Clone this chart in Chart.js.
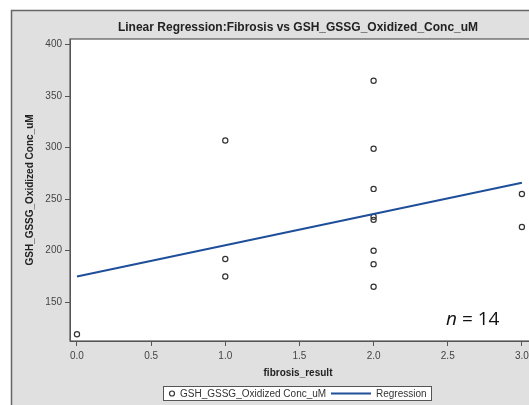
<!DOCTYPE html>
<html>
<head>
<meta charset="utf-8">
<script src="https://cdn.jsdelivr.net/npm/chart.js@4.4.0/dist/chart.umd.min.js"></script>
<style>
  html, body { margin: 0; padding: 0; background: #fff; overflow: hidden; }
  #wrap { width: 560px; height: 405px; }
</style>
</head>
<body>
<div id="wrap"><canvas id="myChart" width="560" height="405"></canvas></div>
<script>
// data
const fibrosis = [0, 1, 1, 1, 2, 2, 2, 2, 2, 2, 2, 2, 3, 3];
const gshConc = [119, 307, 192, 175, 365, 299, 260, 233, 230, 200, 187, 165, 255, 223];
const regX = [0, 3];
const regY = [175, 266];
const xTicks = [0, 0.5, 1, 1.5, 2, 2.5, 3];
const yTicks = [150, 200, 250, 300, 350, 400];

const titleText = 'Linear Regression:Fibrosis vs GSH_GSSG_Oxidized_Conc_uM';
const xTitle = 'fibrosis_result';
const yTitle = 'GSH_GSSG_Oxidized Conc_uM';
const seriesName = 'GSH_GSSG_Oxidized Conc_uM';
const regName = 'Regression';

const axisColor = '#555';
const textColor = '#333';
const lineColor = '#1f4f9a';
const font = '"Liberation Sans", Arial, sans-serif';
const centerX = 298;

const framePlugin = {
  id: 'frame',
  beforeDraw(chart) {
    const ctx = chart.ctx;
    const a = chart.chartArea;
    ctx.save();
    ctx.fillStyle = '#fff';
    ctx.fillRect(0, 0, chart.width, chart.height);
    ctx.fillStyle = '#e0e0e0';
    ctx.fillRect(11, 10, chart.width, chart.height);
    ctx.strokeStyle = '#666';
    ctx.lineWidth = 1.5;
    ctx.strokeRect(11.5, 10.5, chart.width, chart.height);
    ctx.fillStyle = '#fff';
    ctx.fillRect(a.left, a.top, a.right - a.left, a.bottom - a.top);
    ctx.strokeStyle = axisColor;
    ctx.lineWidth = 1.2;
    ctx.strokeRect(a.left, a.top, a.right - a.left, a.bottom - a.top);
    ctx.restore();
  },
  afterDraw(chart) {
    const ctx = chart.ctx;
    const a = chart.chartArea;
    ctx.save();
    ctx.fillStyle = '#222';
    ctx.textAlign = 'center';
    ctx.textBaseline = 'middle';
    ctx.font = 'bold 12px ' + font;
    ctx.fillText(titleText, centerX, 28);
    ctx.font = 'bold 10px ' + font;
    ctx.fillText(xTitle, centerX, 373);
    ctx.save();
    ctx.translate(30, (a.top + a.bottom) / 2);
    ctx.rotate(-Math.PI / 2);
    ctx.fillText(yTitle, 0, 0);
    ctx.restore();

    // legend
    ctx.fillStyle = '#fff';
    ctx.fillRect(163, 386, 268, 14);
    ctx.strokeStyle = axisColor;
    ctx.lineWidth = 1;
    ctx.strokeRect(163.5, 386.5, 268, 14);
    ctx.beginPath();
    ctx.arc(172, 393.5, 2.5, 0, Math.PI * 2);
    ctx.strokeStyle = textColor;
    ctx.lineWidth = 1.2;
    ctx.stroke();
    ctx.fillStyle = textColor;
    ctx.font = '10px ' + font;
    ctx.textAlign = 'left';
    ctx.fillText(seriesName, 180, 394);
    ctx.beginPath();
    ctx.moveTo(331, 393.5);
    ctx.lineTo(371, 393.5);
    ctx.strokeStyle = lineColor;
    ctx.lineWidth = 2;
    ctx.stroke();
    ctx.fillText(regName, 376, 394);

    // n annotation
    ctx.fillStyle = '#111';
    ctx.textBaseline = 'alphabetic';
    ctx.font = 'italic 19px "Open Sans", sans-serif';
    ctx.fillText('n', 446, 325);
    const nw = ctx.measureText('n').width;
    ctx.font = '19px "Open Sans", sans-serif';
    ctx.fillText(' = 14', 446 + nw, 325);
    ctx.restore();
  }
};

const ctx = document.getElementById('myChart');

new Chart(ctx, {
  type: 'scatter',
  data: {
    datasets: [
      {
        label: regName,
        type: 'line',
        data: regX.map((x, i) => ({ x: x, y: regY[i] })),
        borderColor: lineColor,
        borderWidth: 2,
        pointRadius: 0,
        fill: false,
      },
      {
        label: seriesName,
        data: fibrosis.map((x, i) => ({ x: x, y: gshConc[i] })),
        pointStyle: 'circle',
        pointRadius: 2.6,
        borderColor: textColor,
        borderWidth: 1.2,
        backgroundColor: 'rgba(255,255,255,0)',
      },
    ],
  },
  options: {
    responsive: false,
    animation: false,
    layout: { padding: { left: 0, top: 39, right: 20, bottom: 0 } },
    plugins: {
      legend: { display: false },
      title: { display: false },
      tooltip: { enabled: false },
    },
    scales: {
      x: {
        type: 'linear',
        min: -0.047,
        max: 3.122,
        afterBuildTicks: (s) => { s.ticks = xTicks.map((v) => ({ value: v })); },
        afterFit: (s) => { s.height = 64; },
        grid: { drawOnChartArea: false, drawTicks: true, tickLength: 5, color: axisColor },
        border: { display: true, color: axisColor },
        ticks: {
          padding: 4,
          color: '#444',
          font: { family: font, size: 10 },
          callback: (v) => Number(v).toFixed(1),
          maxRotation: 0,
        },
      },
      y: {
        type: 'linear',
        min: 112.4,
        max: 405.5,
        afterBuildTicks: (s) => { s.ticks = yTicks.map((v) => ({ value: v })); },
        afterFit: (s) => { s.width = 70; },
        grid: { drawOnChartArea: false, drawTicks: true, tickLength: 5, color: axisColor },
        border: { display: true, color: axisColor },
        ticks: {
          padding: 3,
          color: '#444',
          font: { family: font, size: 10 },
        },
      },
    },
  },
  plugins: [framePlugin],
});
</script>
</body>
</html>
